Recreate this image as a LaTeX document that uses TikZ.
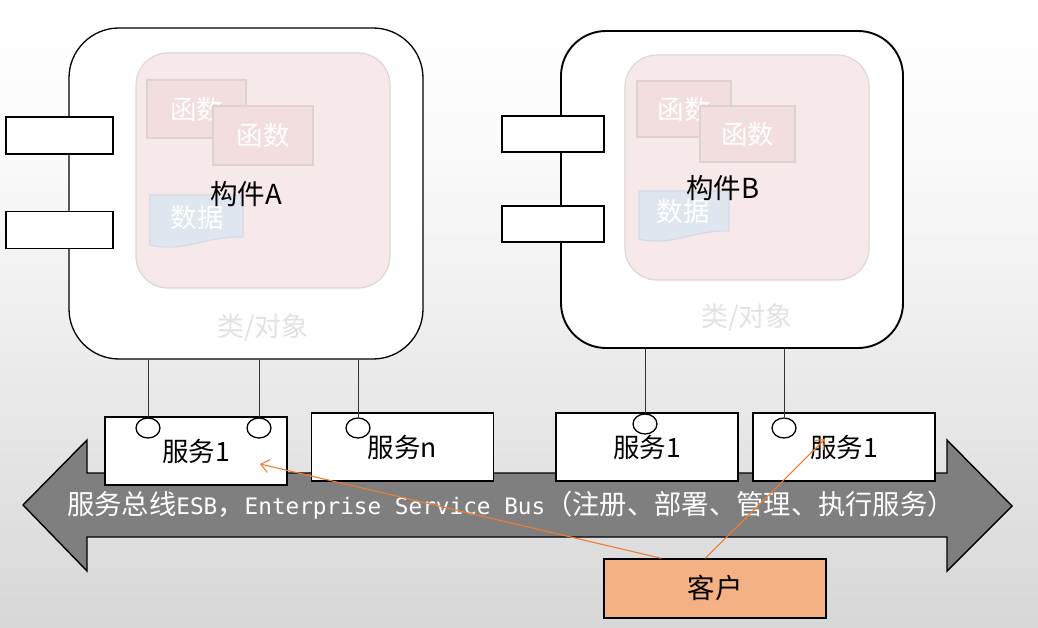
\documentclass[tikz,border=0pt]{standalone}
\usepackage{fontspec}
\setmainfont{Noto Sans CJK SC}
\newfontfamily\busmono{DejaVu Sans Mono}
\usetikzlibrary{shapes.geometric,arrows.meta}
\definecolor{bgbot}{HTML}{D7D7D7}
\definecolor{bgmA}{HTML}{E3E3E3}
\definecolor{bgmB}{HTML}{EFEFEF}
\definecolor{bgmC}{HTML}{FAFAFA}
\definecolor{pinkfill}{HTML}{F7E9E9}
\definecolor{pinkdraw}{HTML}{DDD7D7}
\definecolor{funcfill}{HTML}{F2DEDF}
\definecolor{funcdraw}{HTML}{DCD2D2}
\definecolor{datafill}{HTML}{DFE6F0}
\definecolor{datadraw}{HTML}{D5DBE3}
\definecolor{ghost}{HTML}{E2E2E2}
\definecolor{busgray}{HTML}{7F7F7F}
\definecolor{clientfill}{HTML}{F4B183}
\definecolor{arroworange}{HTML}{ED7D31}
\pgfdeclareverticalshading{bgshade}{100bp}{color(0bp)=(bgbot); color(25bp)=(bgbot); color(37.5bp)=(bgmA); color(50bp)=(bgmB); color(62.5bp)=(bgmC); color(75bp)=(white); color(100bp)=(white)}
\tikzset{
  compbox/.style={draw=black, fill=white, rounded corners=#1},
  innerbox/.style={draw=pinkdraw, fill=pinkfill, line width=1.2pt, rounded corners=32pt},
  funcbox/.style={draw=funcdraw, fill=funcfill, line width=1.2pt, text=white,
    font=\fontsize{26.5}{30}\selectfont},
  datatext/.style={text=white, font=\fontsize{26.5}{30}\selectfont},
  compname/.style={text=black, font=\fontsize{27.5}{32}\selectfont},
  ghosttext/.style={text=ghost, font=\fontsize{27}{32}\selectfont},
  portbox/.style={draw=black, fill=white, minimum width=#1, minimum height=37pt, inner sep=0pt},
  servbox/.style={draw=black, fill=white, line width=1.4pt, minimum width=182pt, minimum height=68pt,
    inner sep=0pt, font=\fontsize{26.5}{30}\selectfont},
  lolli/.style={ellipse, draw=black, fill=white, line width=1.3pt, minimum width=24pt, minimum height=20pt, inner sep=0pt},
  stem/.style={draw=black!80, line width=0.9pt},
  orangeline/.style={draw=arroworange, line width=1.1pt, -{Straight Barb[length=8pt,width=13pt]}},
}
\begin{document}
\begin{tikzpicture}[x=1pt,y=-1pt]
\useasboundingbox (0,0) rectangle (1038,628);
\shade[shading=bgshade] (0,0) rectangle (1038,628);

% ---------- component A ----------
\node[compbox=50pt, line width=1.3pt, minimum width=354pt, minimum height=331pt, inner sep=0pt] (compA) at (246,193.5) {};
\node[innerbox, minimum width=254pt, minimum height=235pt] (innA) at (263,170.5) {};
\node[funcbox, minimum width=99pt, minimum height=58pt] (fA1) at (196.5,109) {函数};
\node[funcbox, minimum width=100pt, minimum height=59pt] (fA2) at (263,135.5) {函数};
\draw[draw=datadraw, fill=datafill, line width=1.2pt]
  (243,237) -- (243,195) -- (150,195) -- (150,245) .. controls (185,253) and (205,236) .. (243,237);
\node[datatext] (dA) at (197,217) {数据};
\node[compname] (nameA) at (246,194) {构件A};
\node[ghosttext] (clsA) at (263,328) {类/对象};
\node[portbox=107pt, line width=1.3pt] (pA1) at (59.5,135.5) {};
\node[portbox=107pt, line width=1.3pt] (pA2) at (59.5,230) {};

% ---------- component B ----------
\node[compbox=45pt, line width=1.9pt, minimum width=342pt, minimum height=317pt, inner sep=0pt] (compB) at (732,189.5) {};
\node[innerbox, minimum width=244pt, minimum height=225pt] (innB) at (747,167.5) {};
\node[funcbox, minimum width=94pt, minimum height=56pt] (fB1) at (684,109) {函数};
\node[funcbox, minimum width=95pt, minimum height=56pt] (fB2) at (747.5,134) {函数};
\draw[draw=datadraw, fill=datafill, line width=1.2pt]
  (729,231) -- (729,191) -- (639,191) -- (639,239) .. controls (672,247) and (692,230) .. (729,231);
\node[datatext] (dB) at (683,211) {数据};
\node[compname] (nameB) at (723,188) {构件B};
\node[ghosttext] (clsB) at (747,318) {类/对象};
\node[portbox=102pt, line width=1.9pt, minimum height=36pt] (pB1) at (553,134) {};
\node[portbox=102pt, line width=1.9pt, minimum height=36pt] (pB2) at (553,224) {};

% ---------- service bus ----------
\draw[fill=busgray, draw=black, line width=1.4pt]
  (23,505) -- (87,440) -- (87,473) -- (947,473) -- (947,440) -- (1012,506)
  -- (947,571) -- (947,537) -- (87,537) -- (87,571) -- cycle;
\node[text=white, inner sep=0pt, font=\fontsize{27.3}{30}\selectfont] (bustext) at (511,505)
  {服务总线{\busmono\fontsize{22.7}{30}\selectfont ESB}，{\busmono\fontsize{22.7}{30}\selectfont Enterprise Service Bus}（注册、部署、管理、执行服务）};

% ---------- services ----------
\node[servbox] (s1) at (196,451) {服务1};
\node[servbox] (sn) at (402.5,447) {服务n};
\node[servbox] (s3) at (647,447) {服务1};
\node[servbox] (s4) at (844,447) {服务1};

\node[lolli] (cA1) at (148,428) {};
\node[lolli] (cA2) at (259,428) {};
\node[lolli] (cAn) at (358,428) {};
\node[lolli] (cB1) at (645,424) {};
\node[lolli] (cB2) at (784,428) {};

\draw[stem] (cA1.north) -- (cA1.north |- compA.south);
\draw[stem] (cA2.north) -- (cA2.north |- compA.south);
\draw[stem] (cAn.north) -- (cAn.north |- compA.south);
\draw[stem] (cB1.north) -- (cB1.north |- compB.south);
\draw[stem] (cB2.north) -- (cB2.north |- compB.south);

% ---------- client ----------
\node[draw=black, fill=clientfill, line width=1.4pt, minimum width=222pt, minimum height=59pt,
  inner sep=0pt, font=\fontsize{27.5}{32}\selectfont] (client) at (715,588.5) {客户};

\coordinate (k1) at ([xshift=58pt]client.north west);
\coordinate (k2) at ([xshift=102pt]client.north west);
\coordinate (t1) at (260,464);
\coordinate (t2) at (825,439);
\draw[orangeline] (k1) -- (t1);
\draw[orangeline] (k2) -- (t2);
\end{tikzpicture}
\end{document}
